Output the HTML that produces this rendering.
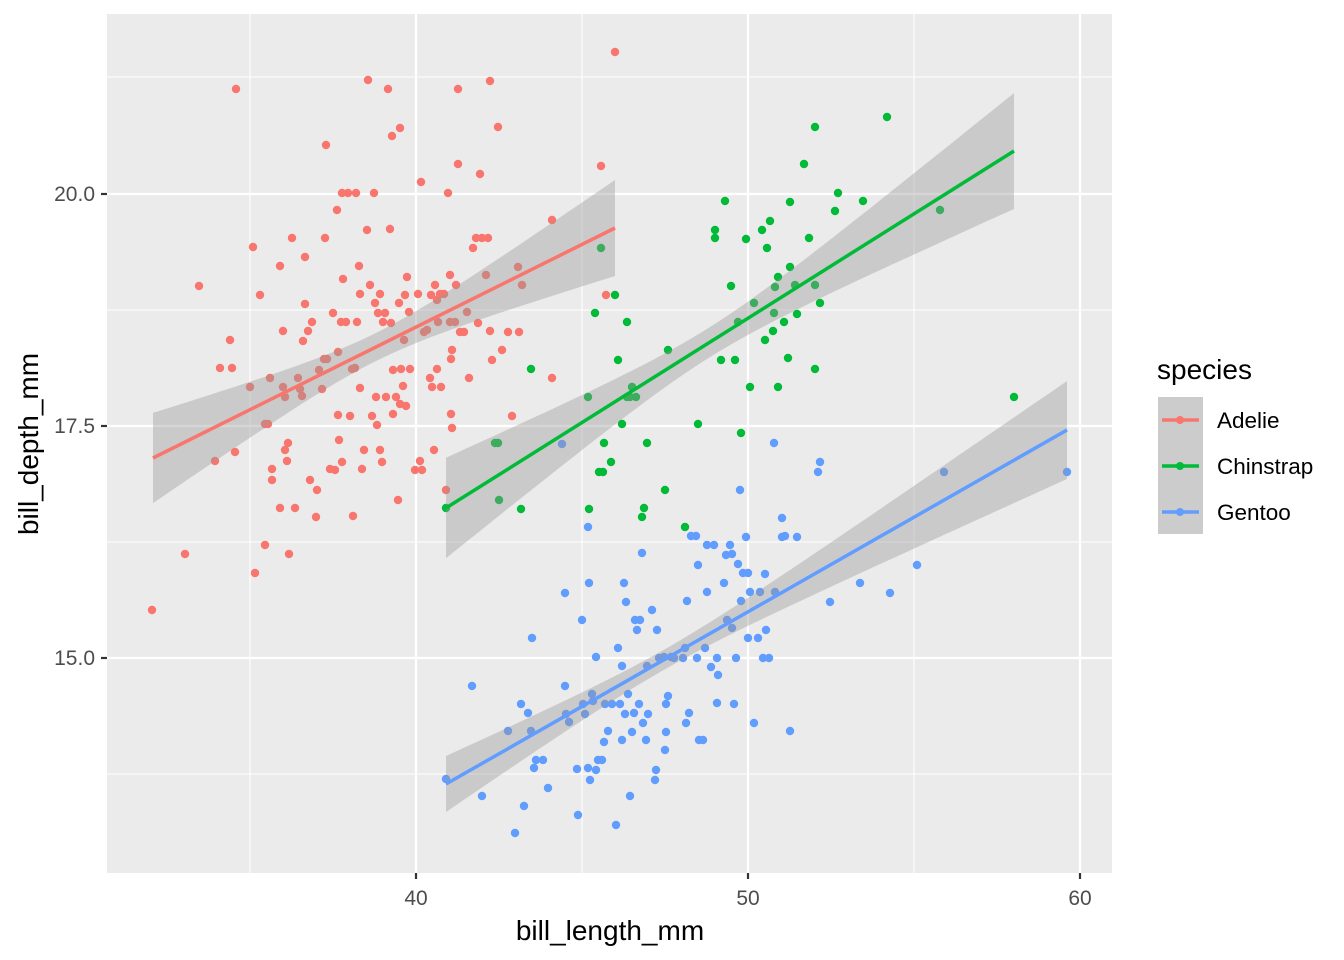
<!DOCTYPE html>
<html><head><meta charset="utf-8"><style>body{margin:0;background:#fff}svg{display:block}text{font-family:"Liberation Sans",Arial,sans-serif}</style></head>
<body>
<svg id="s" width="1344" height="960" xmlns="http://www.w3.org/2000/svg">
<rect x="107" y="14" width="1005" height="859" fill="#EBEBEB"/>
<g stroke="#fff" stroke-width="1.1">
<line x1="250" x2="250" y1="14" y2="873"/><line x1="582" x2="582" y1="14" y2="873"/><line x1="914" x2="914" y1="14" y2="873"/>
<line x1="107" x2="1112" y1="77" y2="77"/><line x1="107" x2="1112" y1="310" y2="310"/><line x1="107" x2="1112" y1="542" y2="542"/><line x1="107" x2="1112" y1="774" y2="774"/>
</g>
<g stroke="#fff" stroke-width="2.2">
<line x1="416" x2="416" y1="14" y2="873"/><line x1="748" x2="748" y1="14" y2="873"/><line x1="1080" x2="1080" y1="14" y2="873"/>
<line x1="107" x2="1112" y1="194" y2="194"/><line x1="107" x2="1112" y1="426" y2="426"/><line x1="107" x2="1112" y1="658" y2="658"/>
</g>
<g id="pts"></g>
<g id="fits"></g>
<g stroke="#333" stroke-width="2.2">
<line x1="416" x2="416" y1="873" y2="879"/><line x1="748" x2="748" y1="873" y2="879"/><line x1="1080" x2="1080" y1="873" y2="879"/>
<line x1="101" x2="107" y1="194" y2="194"/><line x1="101" x2="107" y1="426" y2="426"/><line x1="101" x2="107" y1="658" y2="658"/>
</g>
<g font-size="21" fill="#4D4D4D">
<text x="416" y="905" text-anchor="middle">40</text><text x="748" y="905" text-anchor="middle">50</text><text x="1080" y="905" text-anchor="middle">60</text>
<text x="95" y="201" text-anchor="end">20.0</text><text x="95" y="433" text-anchor="end">17.5</text><text x="95" y="665" text-anchor="end">15.0</text>
</g>
<text x="610" y="940" font-size="28" text-anchor="middle" fill="#000">bill_length_mm</text>
<text transform="translate(38,444) rotate(-90)" font-size="28" text-anchor="middle" fill="#000">bill_depth_mm</text>
<text x="1157" y="379" font-size="28" fill="#000">species</text>
<rect x="1158" y="397" width="45" height="137" fill="#CCCCCC"/>
<g stroke-width="3.5">
<line x1="1162" x2="1199" y1="420" y2="420" stroke="#F8766D"/><line x1="1162" x2="1199" y1="466" y2="466" stroke="#00BA38"/><line x1="1162" x2="1199" y1="512" y2="512" stroke="#619CFF"/>
</g>
<circle cx="1180" cy="420" r="4" fill="#F8766D"/><circle cx="1180" cy="466" r="4" fill="#00BA38"/><circle cx="1180" cy="512" r="4" fill="#619CFF"/>
<g font-size="22.5" fill="#000"><text x="1217" y="428">Adelie</text><text x="1217" y="474">Chinstrap</text><text x="1217" y="520">Gentoo</text></g>
</svg>
<script>
var A=[[152,610],[185,554],[199,286],[215,461],[220,368],[230,340],[232,368],[235,452],[236,89],[250,387],[253,247],[255,573],[260,295],[265,545],[265,424],[268,424],[270,378],[272,469],[272,480],[280,508],[280,266],[283,331],[283,387],[285,397],[285,450],[287,461],[288,443],[289,554],[292,238],[295,508],[298,378],[300,389],[302,396],[303,341],[305,257],[305,304],[308,331],[310,480],[312,322],[316,517],[317,490],[319,370],[322,389],[324,359],[325,238],[326,145],[327,359],[330,469],[333,313],[335,470],[337,210],[338,352],[338,415],[339,440],[341,322],[342,193],[342,462],[343,279],[346,322],[348,193],[350,416],[352,369],[353,516],[355,368],[356,193],[357,322],[359,266],[360,294],[360,388],[362,469],[364,450],[367,230],[368,80],[370,285],[372,416],[374,193],[375,303],[376,397],[377,425],[378,313],[380,450],[380,294],[382,462],[383,322],[385,313],[386,397],[388,89],[390,229],[391,323],[392,136],[393,370],[393,414],[396,397],[398,500],[399,303],[400,404],[400,128],[401,369],[403,386],[404,340],[405,295],[406,406],[407,277],[409,312],[410,369],[415,470],[418,294],[420,461],[421,182],[422,470],[424,332],[427,330],[430,378],[431,295],[432,387],[434,450],[435,285],[437,369],[437,300],[438,322],[440,294],[441,387],[444,294],[446,490],[448,193],[450,275],[450,322],[451,414],[451,359],[452,428],[452,350],[455,322],[456,285],[458,89],[458,164],[460,332],[464,332],[467,312],[469,378],[473,248],[476,238],[478,323],[480,174],[482,238],[486,275],[488,238],[490,81],[490,331],[492,360],[498,127],[502,350],[508,332],[512,416],[518,267],[519,332],[522,285],[552,378],[552,220],[601,166],[606,295],[615,52]];
var C=[[446,508],[495,443],[498,443],[499,500],[521,509],[531,369],[588,397],[589,509],[595,313],[599,472],[601,248],[603,472],[604,443],[611,462],[615,295],[618,360],[622,424],[627,322],[627,397],[630,397],[632,387],[636,397],[642,517],[644,508],[647,443],[665,490],[668,350],[685,527],[698,424],[715,230],[715,238],[721,360],[725,201],[731,286],[735,360],[738,322],[741,433],[746,239],[750,387],[754,303],[762,230],[765,340],[767,248],[770,221],[773,331],[774,313],[775,287],[778,277],[778,387],[784,322],[788,358],[790,202],[790,267],[795,285],[797,314],[804,164],[809,238],[815,369],[815,127],[815,285],[820,303],[835,211],[838,193],[863,201],[887,117],[940,210],[1014,397]];
var G=[[446,779],[472,686],[482,796],[508,731],[515,833],[521,704],[524,806],[528,713],[531,731],[532,638],[534,768],[536,760],[543,760],[548,788],[562,444],[565,686],[565,593],[566,714],[569,722],[577,769],[578,815],[582,620],[583,704],[585,714],[588,768],[588,527],[589,583],[590,780],[592,694],[593,701],[596,770],[596,657],[598,760],[602,760],[604,742],[605,704],[608,731],[612,704],[616,825],[618,648],[620,704],[622,740],[622,666],[624,583],[625,714],[626,602],[628,694],[630,796],[632,732],[634,713],[635,620],[637,630],[639,704],[640,620],[642,553],[643,723],[646,740],[647,666],[648,714],[652,610],[655,780],[656,770],[657,630],[659,658],[664,657],[665,750],[666,732],[666,704],[668,696],[671,657],[674,658],[683,658],[685,648],[686,723],[687,601],[689,713],[691,536],[696,536],[697,658],[698,565],[699,740],[703,740],[705,648],[707,545],[707,592],[711,667],[714,545],[717,703],[717,658],[718,675],[724,583],[726,555],[727,620],[730,545],[732,554],[732,628],[734,704],[736,658],[738,564],[740,490],[741,601],[743,573],[746,537],[748,573],[748,638],[750,592],[754,723],[758,638],[760,592],[763,658],[765,574],[766,630],[769,658],[774,443],[775,592],[782,518],[782,537],[785,536],[790,731],[797,537],[818,472],[820,462],[830,602],[860,583],[890,593],[917,565],[944,472],[1067,472]];
var NS="http://www.w3.org/2000/svg",P=document.getElementById('pts'),F=document.getElementById('fits');
function dots(a,c){a.forEach(function(p){var e=document.createElementNS(NS,'circle');e.setAttribute('cx',p[0]);e.setAttribute('cy',p[1]);e.setAttribute('r',4.2);e.setAttribute('fill',c);P.appendChild(e);});}
dots(A,'#F8766D');dots(C,'#00BA38');dots(G,'#619CFF');
function fit(x0,y0,x1,y1,xm,m,k,c){var up=[],lo=[];for(var i=0;i<=40;i++){var x=x0+(x1-x0)*i/40,y=y0+(y1-y0)*(x-x0)/(x1-x0),h=Math.sqrt(m*m+k*(x-xm)*(x-xm));up.push(x.toFixed(1)+','+(y-h).toFixed(1));lo.unshift(x.toFixed(1)+','+(y+h).toFixed(1));}
var pg=document.createElementNS(NS,'polygon');pg.setAttribute('points',up.concat(lo).join(' '));pg.setAttribute('fill','#999');pg.setAttribute('fill-opacity','0.4');F.appendChild(pg);
var l=document.createElementNS(NS,'line');l.setAttribute('x1',x0);l.setAttribute('y1',y0);l.setAttribute('x2',x1);l.setAttribute('y2',y1);l.setAttribute('stroke',c);l.setAttribute('stroke-width',3.5);F.appendChild(l);}
fit(153,458,615,228,376,14,0.0369,'#F8766D');
fit(446,508,1014,151,708,15,0.0335,'#00BA38');
fit(446,784,1067,430,665,10,0.01424,'#619CFF');
</script>
</body></html>
